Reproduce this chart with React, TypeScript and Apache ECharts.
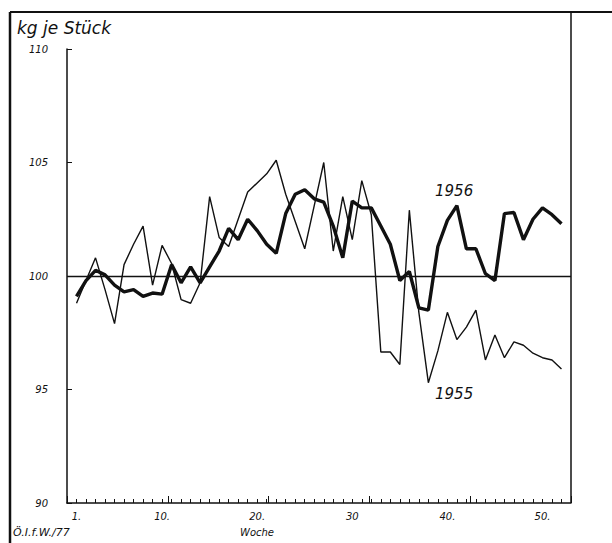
import React, { useEffect, useRef } from "react";
import * as echarts from "echarts";

const weeks = [1, 2, 3, 4, 5, 6, 7, 8, 9, 10, 11, 12, 13, 14, 15, 16, 17, 18, 19, 20, 21, 22, 23, 24, 25, 26, 27, 28, 29, 30, 31, 32, 33, 34, 35, 36, 37, 38, 39, 40, 41, 42, 43, 44, 45, 46, 47, 48, 49, 50, 51, 52];

const values1955 = [
  98.8, 99.8, 100.8, 99.4, 97.9, 100.5, 101.4, 102.2, 99.6, 101.35,
  100.55, 98.96, 98.8, 99.7, 103.5, 101.7, 101.3, 102.5, 103.7, 104.1,
  104.5, 105.1, 103.6, 102.4, 101.2, 103.1, 105.0, 101.1, 103.5, 101.6,
  104.2, 102.7, 96.65, 96.65, 96.1, 102.9, 98.4, 95.3, 96.7, 98.4,
  97.2, 97.75, 98.5, 96.3, 97.4, 96.4, 97.1, 96.95, 96.6, 96.4,
  96.3, 95.9,
];

const values1956 = [
  99.1, 99.8, 100.25, 100.05, 99.6, 99.3, 99.4, 99.1, 99.25, 99.2,
  100.5, 99.7, 100.4, 99.7, 100.4, 101.1, 102.1, 101.6, 102.5, 102.0,
  101.4, 101.0, 102.75, 103.6, 103.8, 103.4, 103.25, 102.2, 100.8, 103.3,
  103.0, 103.0, 102.2, 101.4, 99.8, 100.2, 98.6, 98.5, 101.3, 102.45,
  103.1, 101.2, 101.2, 100.1, 99.8, 102.75, 102.8, 101.6, 102.5, 103.0,
  102.7, 102.3,
];

const xLabelWeeks = [1, 10, 20, 30, 40, 50];
const xLabelTexts = ["1.", "10.", "20.", "30", "40.", "50."];
const yLabelValues = [90, 95, 100, 105, 110];
const yLabelTexts = ["90", "95", "100", "105", "110"];

const titleText = "kg je Stück";
const xAxisTitle = "Woche";
const sourceText = "Ö.I.f.W./77";
const seriesNames = ["1955", "1956"];

const FONT = "DejaVu Sans";
const INK = "#111111";

export default function App() {
  const ref = useRef<HTMLDivElement>(null);

  useEffect(() => {
    if (!ref.current) return;
    const chart = echarts.init(ref.current, null, { renderer: "svg" });

    const data55 = weeks.map((w, i) => [w, values1955[i]]);
    const data56 = weeks.map((w, i) => [w, values1956[i]]);

    const option = {
      animation: false,
      backgroundColor: "#ffffff",
      grid: { left: 67, right: 41, top: 49, bottom: 40, containLabel: false },
      xAxis: [
        {
          type: "value",
          min: 0,
          max: 53,
          interval: 1,
          axisLine: { show: true, lineStyle: { color: INK, width: 1.5 } },
          axisTick: { show: true, inside: true, length: 4, lineStyle: { color: INK, width: 1 } },
          splitLine: { show: false },
          axisLabel: {
            show: true,
            margin: 8,
            color: INK,
            fontFamily: FONT,
            fontStyle: "italic",
            fontSize: 10,
            formatter: (v: number) => {
              const idx = xLabelWeeks.indexOf(v);
              return idx >= 0 ? xLabelTexts[idx] : "";
            },
          },
        },
        {
          type: "value",
          min: 0,
          max: 50,
          interval: 10,
          position: "bottom",
          axisLine: { show: false },
          axisTick: { show: true, inside: true, length: 7, lineStyle: { color: INK, width: 1 } },
          axisLabel: { show: false },
          splitLine: { show: false },
        },
      ],
      yAxis: {
        type: "value",
        min: 90,
        max: 110,
        interval: 5,
        axisLine: { show: true, lineStyle: { color: INK, width: 1.5 } },
        axisTick: { show: true, inside: true, length: 5, lineStyle: { color: INK, width: 1 } },
        splitLine: { show: false },
        axisLabel: {
          margin: 19,
          color: INK,
          fontFamily: FONT,
          fontStyle: "italic",
          fontSize: 10,
          formatter: (v: number) => {
            const idx = yLabelValues.indexOf(v);
            return idx >= 0 ? yLabelTexts[idx] : "";
          },
        },
      },
      series: [
        {
          name: seriesNames[0],
          type: "line",
          data: data55,
          symbol: "none",
          lineStyle: { color: INK, width: 1.4 },
          markLine: {
            silent: true,
            symbol: "none",
            label: { show: false },
            lineStyle: { color: INK, width: 1.4, type: "solid" },
            data: [{ yAxis: 100 }],
          },
        },
        {
          name: seriesNames[1],
          type: "line",
          data: data56,
          symbol: "none",
          lineStyle: { color: INK, width: 3.4 },
        },
      ],
      graphic: [
        { type: "line", shape: { x1: 10, y1: 12, x2: 10, y2: 543 }, style: { stroke: INK, lineWidth: 2.5 } },
        { type: "line", shape: { x1: 10, y1: 12, x2: 612, y2: 12 }, style: { stroke: INK, lineWidth: 2 } },
        { type: "line", shape: { x1: 571, y1: 12, x2: 571, y2: 503 }, style: { stroke: INK, lineWidth: 1.5 } },
        {
          type: "text",
          left: 17,
          top: 19,
          style: { text: titleText, fill: INK, font: `italic 17px "${FONT}"` },
        },
        {
          type: "text",
          left: 240,
          top: 527,
          style: { text: xAxisTitle, fill: INK, font: `italic 10px "${FONT}"` },
        },
        {
          type: "text",
          left: 13,
          top: 527,
          style: { text: sourceText, fill: INK, font: `italic 11px "${FONT}"` },
        },
        {
          type: "text",
          left: 435,
          top: 183,
          style: { text: seriesNames[1], fill: INK, font: `italic 15px "${FONT}"` },
        },
        {
          type: "text",
          left: 435,
          top: 386,
          style: { text: seriesNames[0], fill: INK, font: `italic 15px "${FONT}"` },
        },
      ],
    };

    chart.setOption(option as any);
    return () => chart.dispose();
  }, []);

  return (
    <div
      ref={ref}
      style={{ position: "fixed", left: 0, top: 0, width: 612, height: 543, background: "#fff" }}
    />
  );
}
